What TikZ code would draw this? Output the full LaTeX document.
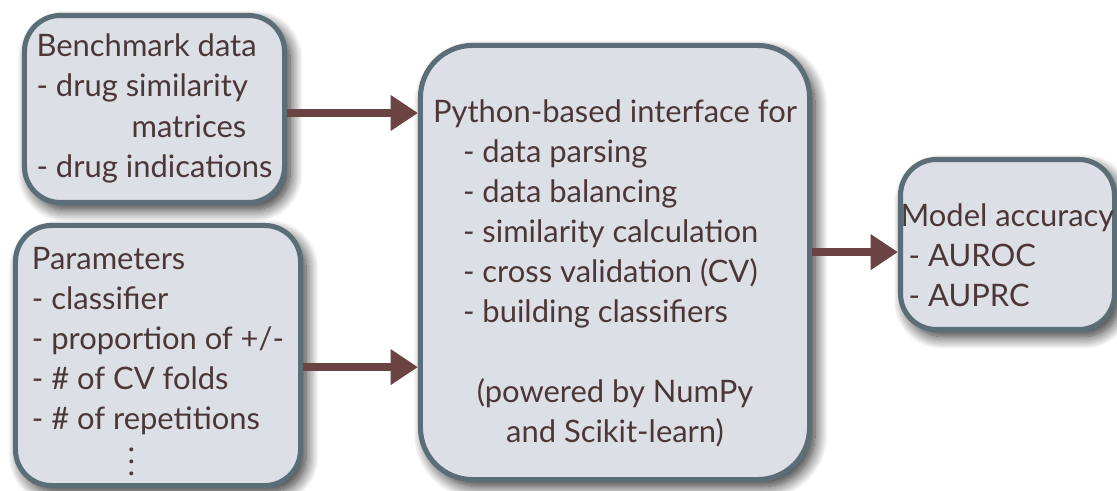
\documentclass[tikz,border=0pt]{standalone}
\usepackage{fontspec}
\setmainfont{Lato}
\usetikzlibrary{positioning,arrows.meta,shadows.blur}
\definecolor{boxfill}{HTML}{DCDFE5}
\definecolor{boxline}{HTML}{5B6E77}
\definecolor{flowcol}{HTML}{6B4343}
\definecolor{textcol}{HTML}{4B3737}
% vertical dots and a text block that sits a bit lower in its box
\newcommand{\stackdots}{\raisebox{-0.2cm}{\rotatebox{90}{.\hspace{0.12cm}.\hspace{0.12cm}.}}}
\newcommand{\lowerby}[2]{\raisebox{-#1}[\height][\depth]{\begin{tabular}{@{}l@{}}#2\end{tabular}}}
\tikzset{
  panel/.style={rectangle, rounded corners=0.9cm, draw=boxline, line width=3.6pt, fill=boxfill, text=textcol, inner sep=0pt,
    blur shadow={shadow xshift=4pt, shadow yshift=-5pt, shadow blur steps=16, shadow blur radius=9pt, shadow opacity=85, shadow blur extra rounding=4pt},
    font=\fontsize{22}{28.45}\selectfont},
  flow/.style={draw=flowcol, line width=5.3pt, -{Triangle[length=0.68cm,width=0.85cm]}},
}

\begin{document}
\begin{tikzpicture}[x=0.025cm,y=-0.025cm]
\useasboundingbox (0,0) rectangle (1117,491);

\node (bench) [panel, minimum width=6.5cm, minimum height=4.675cm] at (154.5,109)
  {\lowerby{0cm}{Benchmark data\\- drug similarity\\\hspace*{2.375cm}matrices\\- drug indications}};
\node (params) [panel, minimum width=7.125cm, minimum height=6.5cm] at (158,355.5)
  {\lowerby{0.15cm}{Parameters\\- classifier\\- proportion of +/-\\- \# of CV folds\\- \# of repetitions\\\hspace*{2.45cm}\stackdots}};
\node (py) [panel, rounded corners=1.3cm, minimum width=9.725cm, minimum height=10.85cm] at (615,262.5)
  {\lowerby{0.3cm}{%
   Python-based interface for\\
   \hspace*{0.75cm}- data parsing\\
   \hspace*{0.75cm}- data balancing\\
   \hspace*{0.75cm}- similarity calculation\\
   \hspace*{0.75cm}- cross validation (CV)\\
   \hspace*{0.75cm}- building classifiers\\
   \\
   \multicolumn{1}{@{}c@{}}{(powered by NumPy}\\
   \multicolumn{1}{@{}c@{}}{and Scikit-learn)}}};
\node (model) [panel, minimum width=5.35cm, minimum height=4.25cm] at (1007.5,244.5)
  {\lowerby{0.36cm}{Model accuracy\\\hspace*{0.2cm}- AUROC\\\hspace*{0.2cm}- AUPRC}};

\draw[flow] ([yshift=-0.1cm]bench.east) -- ([yshift=-0.1cm]bench.east -| py.west);
\draw[flow] ([yshift=-0.29cm]params.east) -- ([yshift=-0.29cm]params.east -| py.west);
\draw[flow] ([yshift=-0.19cm]model.west -| py.east) -- ([yshift=-0.19cm]model.west);

\end{tikzpicture}
\end{document}
